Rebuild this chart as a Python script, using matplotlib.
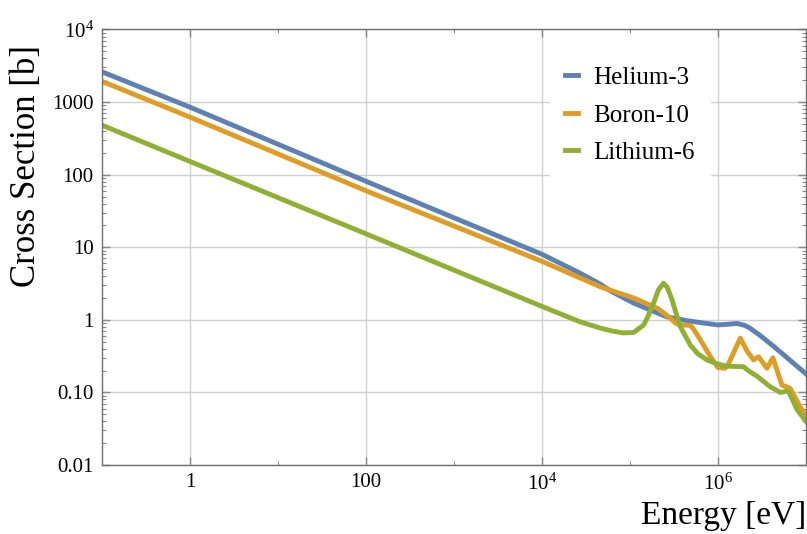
import matplotlib
matplotlib.use('Agg')
import matplotlib.pyplot as plt
from matplotlib.ticker import LogLocator, NullFormatter

plt.rcParams['font.family'] = ['Liberation Serif', 'DejaVu Serif']
plt.rcParams['mathtext.fontset'] = 'custom'
plt.rcParams['mathtext.rm'] = 'Liberation Serif'

# neutron capture cross sections (energy in eV, sigma in barn)
he3_energy = [0.1, 1, 100, 1e4, 2.7e4, 4.6e4, 6e4, 1.1e5, 2.2e5, 2.6e5, 4.5e5, 7e5,
              1e6, 1.3e6, 1.65e6, 2.0e6, 2.3e6, 3e6, 4.3e6, 1e7]
he3_sigma = [2610, 850, 81, 8.0, 4.4, 3.1, 2.5, 1.7, 1.2, 1.1, 0.97, 0.90,
             0.85, 0.87, 0.89, 0.84, 0.77, 0.61, 0.43, 0.18]

b10_energy = [0.1, 1, 100, 1e4, 4.6e4, 1.1e5, 2.03e5, 2.4e5, 2.87e5, 3.3e5, 3.72e5,
              4.84e5, 5.25e5, 6.3e5, 8.2e5, 1.0e6, 1.2e6, 1.32e6, 1.5e6, 1.79e6,
              2.14e6, 2.54e6, 2.89e6, 3.6e6, 4.2e6, 5.33e6, 6.6e6, 8.6e6, 1e7]
b10_sigma = [1930, 620, 60, 6.4, 2.85, 2.0, 1.45, 1.25, 1.05, 0.9, 0.85,
             0.84, 0.75, 0.53, 0.31, 0.22, 0.215, 0.25, 0.35, 0.56,
             0.37, 0.28, 0.31, 0.215, 0.30, 0.126, 0.114, 0.063, 0.047]

li6_energy = [0.1, 1, 100, 1e4, 2.7e4, 4.6e4, 6.3e4, 8.4e4, 1.1e5, 1.43e5, 1.62e5,
              1.85e5, 2.11e5, 2.4e5, 2.65e5, 3.0e5, 3.36e5, 3.72e5, 4.25e5, 4.84e5,
              5.9e5, 7.5e5, 1.0e6, 1.26e6, 1.95e6, 2.2e6, 2.8e6, 3.9e6, 5.1e6, 6.3e6,
              7.9e6, 1e7]
li6_sigma = [480, 152, 15.3, 1.53, 0.94, 0.77, 0.70, 0.66, 0.67, 0.85, 1.15,
             1.7, 2.6, 3.2, 2.8, 1.9, 1.2, 0.81, 0.6, 0.45,
             0.34, 0.28, 0.245, 0.23, 0.226, 0.20, 0.166, 0.12, 0.10, 0.105,
             0.058, 0.040]

x_ticks = [1, 100, 1e4, 1e6]
x_tick_labels = ['1', '100', r'$\mathregular{10^{4}}$', r'$\mathregular{10^{6}}$']
x_minor_ticks = [10, 1000, 1e5, 1e7]
y_ticks = [0.01, 0.1, 1, 10, 100, 1000, 1e4]
y_tick_labels = ['0.01', '0.10', '1', '10', '100', '1000', r'$\mathregular{10^{4}}$']

fig = plt.figure(figsize=(8.07, 5.34), dpi=100)
ax = fig.add_axes([0.1264, 0.1292, 0.8724, 0.8156])

ax.plot(he3_energy, he3_sigma, color='#5E81B5', lw=3.5, label='Helium-3', solid_joinstyle='round')
ax.plot(b10_energy, b10_sigma, color='#E19C24', lw=3.5, label='Boron-10', solid_joinstyle='round')
ax.plot(li6_energy, li6_sigma, color='#8FB032', lw=3.5, label='Lithium-6', solid_joinstyle='round')

ax.set_xscale('log')
ax.set_yscale('log')
ax.set_xlim(0.1, 1e7)
ax.set_ylim(0.01, 1e4)

ax.set_xticks(x_ticks)
ax.set_xticklabels(x_tick_labels)
ax.set_xticks(x_minor_ticks, minor=True)
ax.xaxis.set_minor_formatter(NullFormatter())
ax.set_yticks(y_ticks)
ax.set_yticklabels(y_tick_labels)
ax.yaxis.set_minor_locator(LogLocator(base=10, subs=range(2, 10), numticks=20))
ax.yaxis.set_minor_formatter(NullFormatter())

ax.tick_params(which='both', direction='in', top=True, right=True, colors='#888888',
               labelcolor='black', labelsize=15)
ax.tick_params(which='major', length=6, width=1)
ax.tick_params(which='minor', length=3, width=0.8)
ax.tick_params(axis='y', pad=6)
ax.tick_params(axis='x', pad=6)

ax.grid(True, which='major', color='#d0d0d0', lw=1)
for s in ax.spines.values():
    s.set_color('#707070')
    s.set_linewidth(1)

ax.set_xlabel('Energy [eV]', fontsize=24, loc='right')
ax.set_ylabel('Cross Section [b]', fontsize=25, loc='top')
ax.yaxis.set_label_coords(-0.084, 0.965)

leg = ax.legend(loc='upper left', bbox_to_anchor=(0.618, 0.978), fontsize=18, frameon=True,
                framealpha=1, edgecolor='white', fancybox=False, handlelength=0.55,
                handletextpad=0.6, labelspacing=0.6, borderpad=0.6)

plt.savefig('out.png', dpi=100)
